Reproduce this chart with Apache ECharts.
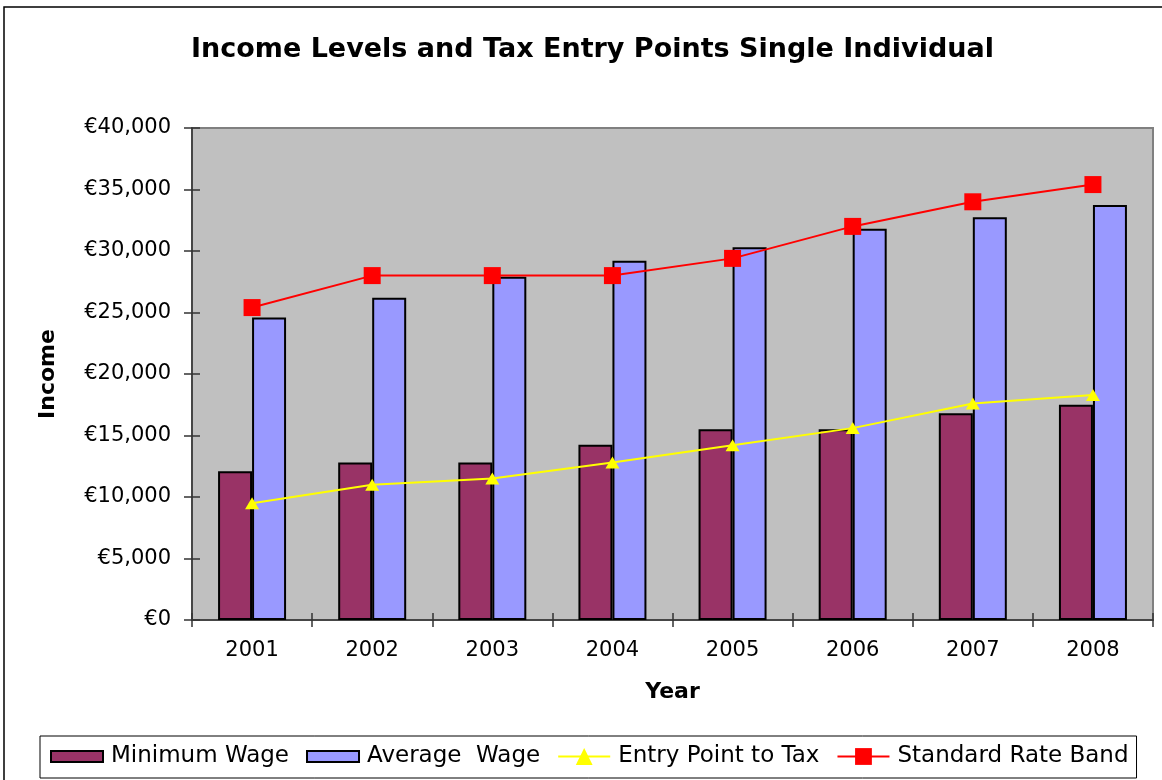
<!DOCTYPE html>
<html>
<head>
<meta charset="utf-8">
<title>Income Levels and Tax Entry Points Single Individual</title>
<script src="https://cdn.jsdelivr.net/npm/echarts@6/dist/echarts.min.js"></script>
<style>
  html, body { margin: 0; padding: 0; background: #ffffff; }
  #chart { width: 1162px; height: 780px; }
</style>
</head>
<body>
<div id="chart"></div>
<script>
// Tax years shown on the category axis
const years = ['2001', '2002', '2003', '2004', '2005', '2006', '2007', '2008'];

// Annual income figures (euro)
const minimumWage = [12100, 12800, 12800, 14250, 15500, 15500, 16800, 17500];
const averageWage = [24600, 26200, 27900, 29200, 30300, 31800, 32750, 33750];
const entryPointToTax = [9500, 11000, 11500, 12800, 14200, 15600, 17600, 18300];
const standardRateBand = [25400, 28000, 28000, 28000, 29400, 32000, 34000, 35400];

// Value axis range
const yMin = 0;
const yMax = 40000;
const yStep = 5000;

const FONT = 'DejaVu Sans';

const euro = v => '€' + v.toLocaleString('en-US');

const chart = echarts.init(document.getElementById('chart'), null, { renderer: 'canvas' });

// Legend swatch for bars: a 52x11 box centred in a 52x21 cell
const barIcon = 'path://M0,0M0,5H52V16H0ZM52,21';

chart.setOption({
  animation: false,
  backgroundColor: '#ffffff',
  textStyle: { fontFamily: FONT, color: '#000' },
  title: {
    text: 'Income Levels and Tax Entry Points Single Individual',
    left: 186,
    top: 31,
    textStyle: { fontFamily: FONT, fontSize: 27, fontWeight: 'bold', color: '#000' }
  },
  graphic: [{
    type: 'rect',
    shape: { x: 4, y: 7, width: 1200, height: 820 },
    style: { fill: 'none', stroke: '#000', lineWidth: 1.5 },
    silent: true,
    z: -10
  }],
  grid: {
    left: 192,
    right: 9,
    top: 128,
    bottom: 160,
    show: true,
    backgroundColor: '#C0C0C0',
    borderColor: '#808080',
    borderWidth: 2
  },
  legend: {
    left: 40,
    top: 736,
    padding: [9, 8, 10, 10],
    itemGap: 17,
    itemWidth: 52,
    itemHeight: 21,
    borderColor: '#000',
    borderWidth: 1,
    backgroundColor: '#fff',
    textStyle: { fontFamily: FONT, fontSize: 23, color: '#000', padding: [0, 0, 0, 3] },
    data: [
      { name: 'Minimum Wage', icon: barIcon },
      { name: 'Average  Wage', icon: barIcon },
      { name: 'Entry Point to Tax' },
      { name: 'Standard Rate Band' }
    ]
  },
  xAxis: [{
    type: 'category',
    data: years,
    position: 'bottom',
    name: 'Year',
    nameLocation: 'middle',
    nameGap: 61,
    nameTextStyle: { fontFamily: FONT, fontSize: 22, fontWeight: 'bold', color: '#000' },
    axisLine: { show: true, lineStyle: { color: '#333', width: 1.5 } },
    axisTick: { show: true, length: 7, lineStyle: { color: '#333', width: 1.5 } },
    axisLabel: { margin: 20, fontFamily: FONT, fontSize: 21, color: '#000' },
    splitLine: { show: false }
  }, {
    type: 'category',
    data: years,
    position: 'bottom',
    axisLine: { show: false },
    axisTick: { show: true, inside: true, length: 7, lineStyle: { color: '#333', width: 1.5 } },
    axisLabel: { show: false },
    splitLine: { show: false }
  }],
  yAxis: [{
    type: 'value',
    min: yMin,
    max: yMax,
    interval: yStep,
    position: 'left',
    name: 'Income',
    nameLocation: 'middle',
    nameGap: 133,
    nameRotate: 90,
    nameTextStyle: { fontFamily: FONT, fontSize: 22, fontWeight: 'bold', color: '#000' },
    axisLine: { show: true, lineStyle: { color: '#333', width: 1.5 } },
    axisTick: { show: true, length: 8, lineStyle: { color: '#333', width: 1.5 } },
    axisLabel: { margin: 21, fontFamily: FONT, fontSize: 21, color: '#000', formatter: euro },
    splitLine: { show: false }
  }, {
    type: 'value',
    min: yMin,
    max: yMax,
    interval: yStep,
    position: 'left',
    axisLine: { show: false },
    axisTick: { show: true, inside: true, length: 8, lineStyle: { color: '#333', width: 1.5 } },
    axisLabel: { show: false },
    splitLine: { show: false }
  }],
  series: [{
    name: 'Minimum Wage',
    type: 'bar',
    data: minimumWage,
    barWidth: 34,
    barGap: '0%',
    itemStyle: { color: '#993366', borderColor: '#000', borderWidth: 2 },
    z: 2
  }, {
    name: 'Average  Wage',
    type: 'bar',
    data: averageWage,
    barWidth: 34,
    barGap: '0%',
    itemStyle: { color: '#9999FF', borderColor: '#000', borderWidth: 2 },
    z: 2
  }, {
    name: 'Entry Point to Tax',
    type: 'line',
    data: entryPointToTax,
    symbol: 'triangle',
    symbolSize: [14, 12],
    showAllSymbol: true,
    lineStyle: { color: '#FFFF00', width: 2 },
    itemStyle: { color: '#FFFF00' },
    z: 3
  }, {
    name: 'Standard Rate Band',
    type: 'line',
    data: standardRateBand,
    symbol: 'rect',
    symbolSize: 17,
    showAllSymbol: true,
    lineStyle: { color: '#FF0000', width: 2 },
    itemStyle: { color: '#FF0000' },
    z: 4
  }]
});
</script>
</body>
</html>
